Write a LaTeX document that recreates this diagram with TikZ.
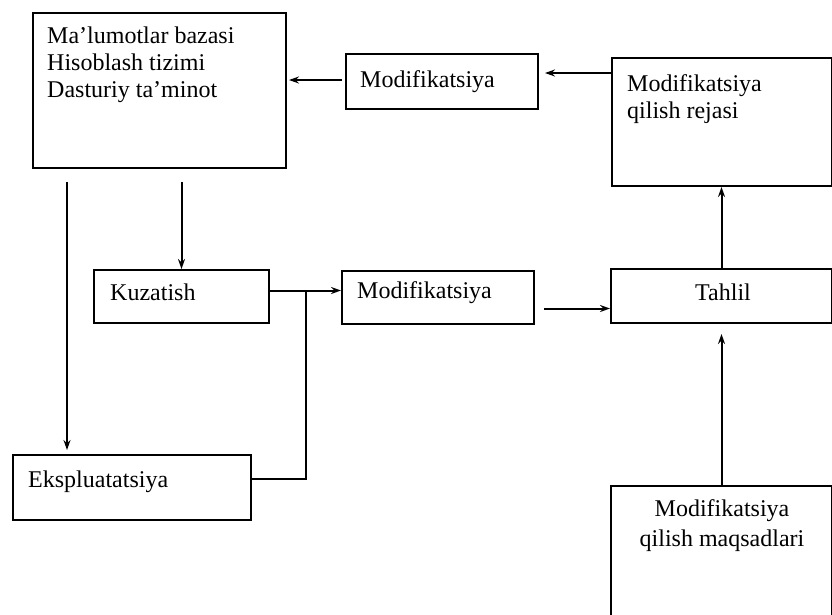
\documentclass[tikz,border=0pt]{standalone}
\usepackage{fontspec}
\setmainfont{Liberation Serif}
\usepackage{tikz}
\usetikzlibrary{arrows, arrows.meta}

\tikzset{
  blok/.style={draw, rectangle, line width=2pt, inner sep=0pt, anchor=north west},
  yozuv/.style={inner sep=0pt, font=\fontsize{24}{27}\selectfont},
  strelka/.style={-{Stealth[length=10pt,width=7pt]}, line width=2pt},
  chiziq/.style={line width=2pt}
}

\begin{document}
\begin{tikzpicture}[x=1pt,y=-1pt]
\useasboundingbox (0,0) rectangle (832,614);
%\draw[step=50,gray,very thin] (0,0) grid (832,614);
% bloklar
\node[blok, minimum width=253pt, minimum height=155pt] (baza) at (32,12) {};
\node[blok, minimum width=192pt, minimum height=55pt] (modA) at (345,53) {};
\node[blok, minimum width=220pt, minimum height=128pt] (reja) at (611,57) {};
\node[blok, minimum width=175pt, minimum height=53pt] (kuz) at (93,269) {};
\node[blok, minimum width=192pt, minimum height=53pt] (modB) at (341,270) {};
\node[blok, minimum width=221pt, minimum height=54pt] (tahlil) at (610,268) {};
\node[blok, minimum width=238pt, minimum height=65pt] (eksp) at (12,454) {};
\node[blok, minimum width=221pt, minimum height=160pt] (maqsad) at (610,485) {};
% yozuvlar
\node[yozuv, anchor=north west, align=left] (bazaT) at (47,27) {Ma'lumotlar bazasi\\Hisoblash tizimi\\Dasturiy ta'minot};
\node[yozuv, anchor=west] (modAT) at (360,82) {Modifikatsiya};
\node[yozuv, anchor=north west, align=left] (rejaT) at (627,74) {Modifikatsiya\\qilish rejasi};
\node[yozuv, anchor=west] (kuzT) at (110,292) {Kuzatish};
\node[yozuv, anchor=west] (modBT) at (357,293) {Modifikatsiya};
\node[yozuv] (tahlilT) at (723,292) {Tahlil};
\node[yozuv, anchor=west] (ekspT) at (28,482) {Ekspluatatsiya};
\node[yozuv, anchor=north, align=center, font=\fontsize{24}{30}\selectfont] (maqsadT) at (722,499) {Modifikatsiya\\qilish maqsadlari};
% strelkalar
\coordinate (r1) at ([yshift=-16pt]reja.north west);
\coordinate (e1) at ([xshift=55pt]eksp.north west);
\coordinate (tut) at ([xshift=36pt,yshift=6pt]kuz.east);
\draw[strelka, shorten <=3pt, shorten >=2pt] ([yshift=1.5pt]modA.west) -- ([yshift=1.5pt]modA.west -| baza.east);
\draw[strelka, shorten >=6pt] (r1) -- (modA.east |- r1);
\draw[strelka, shorten <=13pt] (kuz.north |- baza.south) -- (kuz.north);
\draw[strelka, shorten <=13pt, shorten >=4pt] (e1 |- baza.south) -- (e1);
\draw[strelka] ([yshift=6pt]kuz.east) -- ([yshift=6pt]kuz.east -| modB.west);
\draw[chiziq] ([yshift=9pt]eksp.east) -| (tut);
\draw[strelka, shorten <=9pt] ([yshift=-11pt]modB.east) -- ([yshift=-11pt]modB.east -| tahlil.west);
\draw[strelka] (tahlil.north) -- (tahlil.north |- reja.south);
\draw[strelka, shorten >=10pt] (maqsad.north) -- (tahlil.south);
\end{tikzpicture}
\end{document}
